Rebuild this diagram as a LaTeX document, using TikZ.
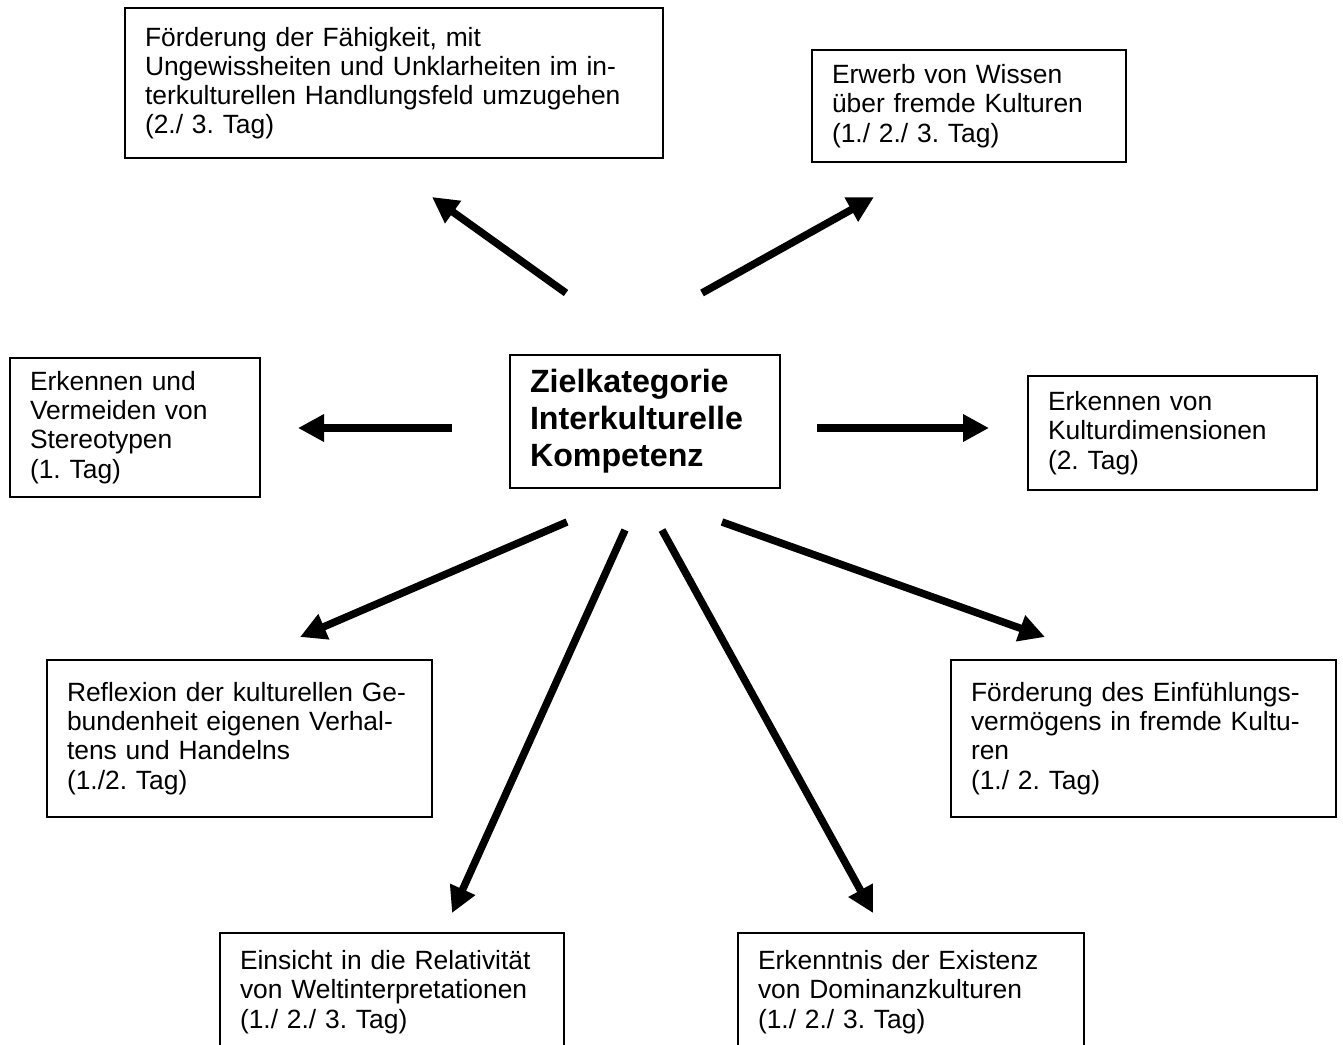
\documentclass[tikz,border=0pt]{standalone}
\usepackage{fontspec}
\setmainfont{Liberation Sans}
\usetikzlibrary{arrows.meta}
\frenchspacing

\begin{document}
\begin{tikzpicture}[x=0.5pt,y=-0.5pt]
        \tikzset{GoalStyle/.style={draw, line width=0.8pt, align=left,
                inner xsep=10pt, inner ysep=0pt,
                font=\fontsize{13.2pt}{14.6pt}\selectfont}}
        \tikzset{ArrowStyle/.style={line width=3.75pt,
                -{Triangle[length=13pt, width=13pt]}}}
        \path[fill=white] (0,0) rectangle (1343,1044);
        \clip (0,0) rectangle (1343,1044);
        % Mitte
        \node[GoalStyle, minimum width=135pt, minimum height=66.5pt, text width=115pt,
                font=\fontsize{16.1pt}{18.5pt}\selectfont\bfseries] (Ziel) at (645,421.5)
                {Zielkategorie\\Interkulturelle\\Kompetenz};
        % Teilziele
        \node[GoalStyle, minimum width=269pt, minimum height=75pt, text width=249pt]
                (Ungewiss) at (394,83)
                {Förderung der Fähigkeit, mit\\Ungewissheiten und Unklarheiten im in-\\terkulturellen Handlungsfeld umzugehen\\(2./ 3. Tag)};
        \node[GoalStyle, minimum width=157pt, minimum height=56pt, text width=137pt]
                (Wissen) at (969,106)
                {Erwerb von Wissen\\über fremde Kulturen\\(1./ 2./ 3. Tag)};
        \node[GoalStyle, minimum width=125pt, minimum height=69.5pt, text width=105pt]
                (Stereo) at (135,427.5)
                {Erkennen und\\Vermeiden von\\Stereotypen\\(1. Tag)};
        \node[GoalStyle, minimum width=144.5pt, minimum height=57pt, text width=124.5pt]
                (Dimens) at (1172.5,433)
                {Erkennen von\\Kulturdimensionen\\(2. Tag)};
        \node[GoalStyle, minimum width=192.5pt, minimum height=78.5pt, text width=172.5pt]
                (Reflex) at (239.5,738.5)
                {Reflexion der kulturellen Ge-\\bundenheit eigenen Verhal-\\tens und Handelns\\(1./2. Tag)};
        \node[GoalStyle, minimum width=192.5pt, minimum height=78.5pt, text width=172.5pt]
                (Einfuehl) at (1143.5,738.5)
                {Förderung des Einfühlungs-\\vermögens in fremde Kultu-\\ren\\(1./ 2. Tag)};
        \node[GoalStyle, minimum width=172pt, minimum height=59pt, text width=152pt]
                (Relativ) at (392,992)
                {Einsicht in die Relativität\\von Weltinterpretationen\\(1./ 2./ 3. Tag)};
        \node[GoalStyle, minimum width=173pt, minimum height=59pt, text width=153pt]
                (Dominanz) at (911,992)
                {Erkenntnis der Existenz\\von Dominanzkulturen\\(1./ 2./ 3. Tag)};
        % Pfeile
        \coordinate (UngewissFrom) at (566,293);
        \coordinate (UngewissTo) at (432,197);
        \coordinate (WissenFrom) at (702,293);
        \coordinate (WissenTo) at (874,197);
        \coordinate (StereoFrom) at (452,428);
        \coordinate (StereoTo) at (298,428);
        \coordinate (DimensFrom) at (817,428);
        \coordinate (DimensTo) at (989,428);
        \coordinate (ReflexFrom) at (567,522);
        \coordinate (ReflexTo) at (300,637);
        \coordinate (RelativFrom) at (625,530);
        \coordinate (RelativTo) at (452,913);
        \coordinate (DominanzFrom) at (662,530);
        \coordinate (DominanzTo) at (873,913);
        \coordinate (EinfuehlFrom) at (722,522);
        \coordinate (EinfuehlTo) at (1045,637);
        \draw[ArrowStyle] (UngewissFrom) -- (UngewissTo);
        \draw[ArrowStyle] (WissenFrom) -- (WissenTo);
        \draw[ArrowStyle] (StereoFrom) -- (StereoTo);
        \draw[ArrowStyle] (DimensFrom) -- (DimensTo);
        \draw[ArrowStyle] (ReflexFrom) -- (ReflexTo);
        \draw[ArrowStyle] (RelativFrom) -- (RelativTo);
        \draw[ArrowStyle] (DominanzFrom) -- (DominanzTo);
        \draw[ArrowStyle] (EinfuehlFrom) -- (EinfuehlTo);
\end{tikzpicture}
\end{document}
